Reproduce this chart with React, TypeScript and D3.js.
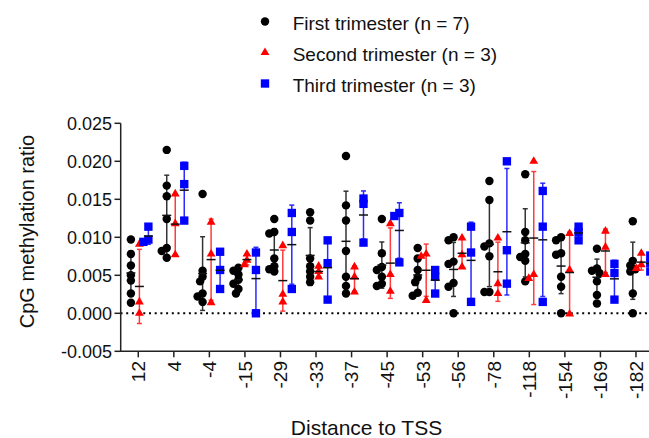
import * as d3 from "d3";

const categories = ["12", "4", "-4", "-15", "-29", "-33", "-37", "-45", "-53", "-56", "-78", "-118", "-154", "-169", "-182"];

// first trimester, n = 7 per position
const firstTri = [
  [0.0097, 0.0078, 0.0063, 0.005, 0.0043, 0.0026, 0.0014],
  [0.0215, 0.0168, 0.0154, 0.0124, 0.0086, 0.0082, 0.0073],
  [0.0157, 0.0056, 0.0048, 0.0042, 0.0026, 0.0022, 0.0015],
  [0.006, 0.0056, 0.0051, 0.0044, 0.0039, 0.0032, 0.0026],
  [0.0124, 0.0107, 0.0105, 0.0072, 0.0062, 0.0058, 0.0055],
  [0.0133, 0.0122, 0.0072, 0.0062, 0.0055, 0.0048, 0.0041],
  [0.0207, 0.0142, 0.0122, 0.0082, 0.0048, 0.0036, 0.0026],
  [0.0124, 0.0079, 0.0061, 0.0057, 0.0048, 0.0039, 0.0036],
  [0.0086, 0.0072, 0.0057, 0.0047, 0.0041, 0.0027, 0.0023],
  [0.01, 0.0096, 0.0068, 0.0065, 0.004, 0.0035, 0.0],
  [0.0174, 0.0149, 0.0092, 0.0088, 0.0075, 0.0028, 0.0028],
  [0.0183, 0.0107, 0.0096, 0.0078, 0.0074, 0.0069, 0.0042],
  [0.01, 0.0096, 0.0079, 0.0077, 0.0048, 0.0035, 0.0],
  [0.0085, 0.0059, 0.0056, 0.0053, 0.0042, 0.0024, 0.0013],
  [0.0121, 0.0069, 0.0063, 0.0058, 0.0055, 0.0026, 0.0],
];

// second trimester, n = 3
const secondTri = [
  [0.0091, 0.0015, 0.0],
  [0.0157, 0.0118, 0.0077],
  [0.012, 0.0078, 0.0014],
  [0.0078, 0.007, 0.0064],
  [0.0089, 0.0025, 0.0015],
  [0.0062, 0.0055, 0.0048],
  [0.0061, 0.0048, 0.0028],
  [0.0118, 0.0051, 0.0029],
  [0.0078, 0.0075, 0.0017],
  [0.0099, 0.0077, 0.0061],
  [0.0099, 0.0039, 0.0026],
  [0.02, 0.0051, 0.0046],
  [0.0105, 0.0057, -0.0001],
  [0.0108, 0.0087, 0.0051],
  [0.0079, 0.0064, 0.0059],
];

// third trimester, n = 3
const thirdTri = [
  [0.0114, 0.0097, 0.0094],
  [0.0194, 0.017, 0.0122],
  [0.0081, 0.0057, 0.0032],
  [0.008, 0.0057, 0.0],
  [0.0132, 0.0107, 0.0032],
  [0.0096, 0.0066, 0.0018],
  [0.0151, 0.0144, 0.0093],
  [0.0132, 0.0128, 0.0067],
  [0.0057, 0.0048, 0.0026],
  [0.0114, 0.008, 0.0015],
  [0.02, 0.0083, 0.0039],
  [0.0161, 0.0114, 0.0015],
  [0.0114, 0.0107, 0.0096],
  [0.0065, 0.0053, 0.0018],
  [0.0076, 0.0066, 0.0055],
];

const yTicks = [-0.005, 0, 0.005, 0.01, 0.015, 0.02, 0.025];
const yTickLabels = ["-0.005", "0.000", "0.005", "0.010", "0.015", "0.020", "0.025"];

const seriesNames = ["First trimester (n = 7)", "Second trimester (n = 3)", "Third trimester (n = 3)"];

const W = 649;
const H = 438;
const font = "'Liberation Sans', Arial, sans-serif";

// axis ticks and the data columns drift apart slightly in the original
const xAxis = d3.scaleBand().domain(categories).range([120.5, 120.5 + 35.55 * categories.length]);
const xPts = d3.scaleBand().domain(categories).range([120.97, 120.97 + 35.85 * categories.length]);
const y = d3.scaleLinear().domain([-0.005, 0.025]).range([351.3, 123.3]);

const series = [
  { data: firstTri, color: "#000", bar: "#333", dx: -8, shape: d3.symbolCircle, size: 56 },
  { data: secondTri, color: "#ff0000", bar: "#ff3b3b", dx: 0.5, shape: d3.symbolTriangle, size: 34 },
  { data: thirdTri, color: "#0000ff", bar: "#2a2aff", dx: 9.5, shape: d3.symbolSquare, size: 70 },
];

// spread overlapping points sideways a little, like a scatter column
function swarm(vals: number[], cx: number) {
  const placed: { x: number; y: number }[] = [];
  const sorted = [...vals].sort((a, b) => b - a);
  const offs = [0, -2.5, 2.5, -5, 5];
  for (const v of sorted) {
    const py = y(v);
    let px = cx;
    for (const o of offs) {
      const ok = placed.every((p) => Math.hypot(p.x - (cx + o), p.y - py) >= 5);
      if (ok) { px = cx + o; break; }
    }
    placed.push({ x: px, y: py });
  }
  return placed;
}

export default function App() {
  const tickX = (c: string) => (xAxis(c) as number) + xAxis.bandwidth() / 2;
  const colX = (c: string) => (xPts(c) as number) + xPts.bandwidth() / 2;
  const [ax0, ax1] = xAxis.range();
  const zeroEnd = xPts.range()[1];

  return (
    <svg width={W} height={H} style={{ position: "absolute", left: 0, top: 0, background: "#fff" }} fontFamily={font}>
      {/* zero line */}
      <line x1={ax0} x2={zeroEnd} y1={y(0)} y2={y(0)} stroke="#000" strokeWidth={2} strokeDasharray="2 3.7" />

      {series.map((s, si) =>
        categories.map((c, ci) => {
          const vals = s.data[ci];
          const cx = colX(c) + s.dx;
          const m = d3.mean(vals) as number;
          const sd = d3.deviation(vals) as number;
          const pts = swarm(vals, cx);
          const sym = d3.symbol(s.shape, s.size)() as string;
          return (
            <g key={`${si}-${ci}`}>
              <line x1={cx} x2={cx} y1={y(m + sd)} y2={y(m - sd)} stroke={s.bar} strokeWidth={1.5} />
              <line x1={cx - 2.5} x2={cx + 2.5} y1={y(m + sd)} y2={y(m + sd)} stroke={s.bar} strokeWidth={1.5} />
              <line x1={cx - 2.5} x2={cx + 2.5} y1={y(m - sd)} y2={y(m - sd)} stroke={s.bar} strokeWidth={1.5} />
              {pts.map((p, pi) => (
                <path key={pi} d={sym} transform={`translate(${p.x},${p.y})`} fill={s.color} />
              ))}
              <line x1={cx - 4.5} x2={cx + 4.5} y1={y(m)} y2={y(m)} stroke="#111" strokeWidth={1.5} />
            </g>
          );
        })
      )}

      {/* y axis */}
      <line x1={120.7} x2={120.7} y1={y(0.025)} y2={y(-0.005)} stroke="#222" strokeWidth={1.5} />
      {yTicks.map((t, i) => (
        <g key={t}>
          <line x1={114.5} x2={120.7} y1={y(t)} y2={y(t)} stroke="#222" strokeWidth={1.5} />
          <text x={112} y={y(t)} dy="0.36em" textAnchor="end" fontSize={18} fill="#111">
            {yTickLabels[i]}
          </text>
        </g>
      ))}

      {/* x axis */}
      <line x1={120} x2={ax1} y1={y(-0.005)} y2={y(-0.005)} stroke="#222" strokeWidth={1.5} />
      {categories.map((c) => (
        <g key={c}>
          <line x1={tickX(c)} x2={tickX(c)} y1={y(-0.005)} y2={y(-0.005) + 6} stroke="#222" strokeWidth={1.5} />
          <text
            transform={`translate(${tickX(c)},${361}) rotate(-90)`}
            dy="0.36em"
            textAnchor="end"
            fontSize={19}
            fill="#111"
          >
            {c}
          </text>
        </g>
      ))}

      <text x={366.5} y={435} textAnchor="middle" fontSize={21} fill="#111">
        Distance to TSS
      </text>
      <text transform="translate(34,231.5) rotate(-90)" textAnchor="middle" fontSize={20} fill="#111">
        CpG methylation ratio
      </text>

      {/* legend */}
      {series.map((s, i) => (
        <g key={i}>
          <path
            d={d3.symbol(s.shape, s.size)() as string}
            transform={`translate(265,${21.5 + i * 31})`}
            fill={s.color}
          />
          <text x={292.7} y={29.5 + i * 31} fontSize={19} fill="#111">
            {seriesNames[i]}
          </text>
        </g>
      ))}
    </svg>
  );
}
